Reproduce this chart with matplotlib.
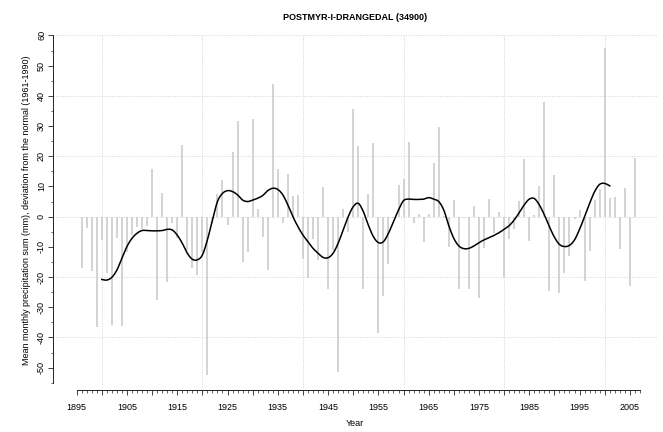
import matplotlib
matplotlib.use("Agg")
import matplotlib.pyplot as plt
from matplotlib.ticker import FixedLocator
import numpy as np

plt.rcParams['font.family'] = ['Liberation Sans', 'DejaVu Sans']

title = "POSTMYR-I-DRANGEDAL (34900)"
ylabel = "Mean monthly precipitation sum (mm), deviation from the normal (1961-1990)"
xlabel = "Year"

first_year = 1896
anomaly = [
    -16.9, -3.6, -18.1, -36.4, -7.7, -18.8, -36.0, -7.2, -36.2, -11.6,   # 1896-1905
    -6.0, -3.3, -4.0, -3.0, 15.8, -27.6, 7.7, -21.5, -2.2, -7.0,         # 1906-1915
    23.7, -11.0, -17.0, -19.3, -11.6, -52.4, -2.2, 7.5, 12.1, -2.8,      # 1916-1925
    21.5, 31.8, -14.9, -11.8, 32.4, 2.4, -6.9, -17.7, 44.0, 15.7,        # 1926-1935
    -2.0, 14.0, 6.9, 7.2, -14.1, -20.3, -7.5, -14.2, 9.8, -23.8,         # 1936-1945
    -11.0, -51.3, 2.4, -5.0, 35.8, 23.5, -23.8, 7.5, 24.3, -38.6,        # 1946-1955
    -26.2, -15.8, -0.5, 10.5, 12.5, 24.6, -2.2, 0.9, -8.3, 0.9,          # 1956-1965
    17.7, 29.6, 0.3, -9.9, 5.5, -23.8, -0.3, -23.8, 3.5, -27.1,          # 1966-1975
    -10.5, 5.9, -5.5, 1.7, -19.9, -7.5, -4.0, 5.3, 19.0, -8.0,           # 1976-1985
    0.4, 10.2, 38.1, -24.6, 13.8, -25.4, -18.5, -12.9, -0.9, 2.2,        # 1986-1995
    -21.2, -11.4, 5.5, 9.2, 56.0, 6.3, 6.6, -10.7, 9.4, -22.8,           # 1996-2005
    19.5,                                                                # 2006
]
years = np.arange(first_year, first_year + len(anomaly))

smooth_first_year = 1900
smooth = [
    -20.8, -21.0, -20.1, -17.7, -13.8, -9.9, -7.2, -5.5, -4.6, -4.6,     # 1900-1909
    -4.7, -4.7, -4.6, -4.2, -4.4, -6.1, -8.8, -12.1, -14.1, -14.3,       # 1910-1919
    -12.7, -7.7, -1.1, 5.0, 7.7, 8.6, 8.3, 7.2, 5.5, 5.0,                # 1920-1929
    5.5, 6.1, 7.0, 8.6, 9.4, 9.0, 7.2, 3.9, 0.0, -3.3,                   # 1930-1939
    -6.1, -8.3, -10.5, -12.1, -13.5, -13.6, -12.1, -8.8, -4.4, 0.0,      # 1940-1949
    3.3, 4.4, 1.7, -2.8, -6.6, -8.6, -8.3, -5.5, -1.7, 2.2,              # 1950-1959
    5.3, 5.8, 5.7, 5.7, 5.8, 6.3, 5.8, 5.0, 2.2, -3.0,                   # 1960-1969
    -7.2, -9.7, -10.6, -10.5, -9.7, -8.6, -7.7, -7.0, -6.2, -5.3,        # 1970-1979
    -4.2, -3.0, -1.1, 1.3, 3.9, 5.8, 6.0, 3.9, 0.6, -3.3,                # 1980-1989
    -6.8, -9.2, -9.9, -9.5, -7.7, -4.2, 0.0, 4.4, 8.3, 10.7,             # 1990-1999
    11.0, 10.2,                                                          # 2000-2001
]
smooth_years = np.arange(smooth_first_year, smooth_first_year + len(smooth))

ytick_values = list(range(-50, 61, 10))


def catmull_rom(x, y, n=8):
    """Render a smooth curve through the read points (display only)."""
    x = np.asarray(x, float)
    y = np.asarray(y, float)
    xp = np.concatenate([[2 * x[0] - x[1]], x, [2 * x[-1] - x[-2]]])
    yp = np.concatenate([[2 * y[0] - y[1]], y, [2 * y[-1] - y[-2]]])
    xs, ys = [], []
    t = np.linspace(0, 1, n, endpoint=False)
    for i in range(1, len(xp) - 2):
        p0, p1, p2, p3 = yp[i - 1], yp[i], yp[i + 1], yp[i + 2]
        yy = 0.5 * ((2 * p1) + (-p0 + p2) * t + (2 * p0 - 5 * p1 + 4 * p2 - p3) * t ** 2
                    + (-p0 + 3 * p1 - 3 * p2 + p3) * t ** 3)
        xx = xp[i] + (xp[i + 1] - xp[i]) * t
        xs.append(xx)
        ys.append(yy)
    xs.append([x[-1]])
    ys.append([y[-1]])
    return np.concatenate(xs), np.concatenate(ys)


W, H = 663, 432
fig = plt.figure(figsize=(W / 100, H / 100), dpi=100)
left, right, top, bottom = 53, 657, 30, 390
ax = fig.add_axes([left / W, 1 - bottom / H, (right - left) / W, (bottom - top) / H])

ax.set_xlim(1890.3, 2010.4)
ax.set_ylim(-57.4, 61.8)

grid_kw = dict(color='#d4d4d4', linewidth=0.7, linestyle=(0, (1, 1.5)), zorder=0)
for gy in range(-40, 61, 20):
    ax.axhline(gy, **grid_kw)
ax.vlines(np.arange(1900, 2001, 20), -56.3, 60, **grid_kw)

ax.vlines(years, 0, anomaly, color='#c8c8c8', linewidth=1.1, zorder=2)
sx, sy = catmull_rom(smooth_years, smooth)
ax.plot(sx, sy, color='black', linewidth=1.1, zorder=3)

for s in ['top', 'right']:
    ax.spines[s].set_visible(False)
ax.spines['left'].set_bounds(-55, 60)
ax.spines['bottom'].set_bounds(1895, 2007)
for s in ['left', 'bottom']:
    ax.spines[s].set_linewidth(0.7)
    ax.spines[s].set_color('#222222')

ax.set_xticks(np.arange(1895, 2006, 5))
ax.set_xticklabels([str(y) if (y - 1895) % 10 == 0 else '' for y in range(1895, 2006, 5)])
ax.xaxis.set_minor_locator(FixedLocator(np.arange(1895, 2008, 1)))
ax.set_yticks(ytick_values)
ax.set_yticklabels([str(v) for v in ytick_values], rotation=90, va='center')
ax.yaxis.set_minor_locator(FixedLocator(np.arange(-55, 61, 5)))

ax.tick_params(axis='both', which='major', length=3.5, width=0.6, color='#222222',
               labelsize=6.5)
ax.tick_params(axis='both', which='minor', length=1.8, width=0.5, color='#222222')
ax.tick_params(axis='x', which='major', pad=6)
ax.tick_params(axis='y', which='major', pad=1.5)

ax.set_xlabel(xlabel, fontsize=6.5, labelpad=5)
ax.set_ylabel(ylabel, fontsize=6.5, labelpad=4)
fig.text(355 / W, 1 - 17 / H, title, ha='center', va='center', fontsize=6.5, fontweight='bold')

fig.savefig("out.png", dpi=100)
